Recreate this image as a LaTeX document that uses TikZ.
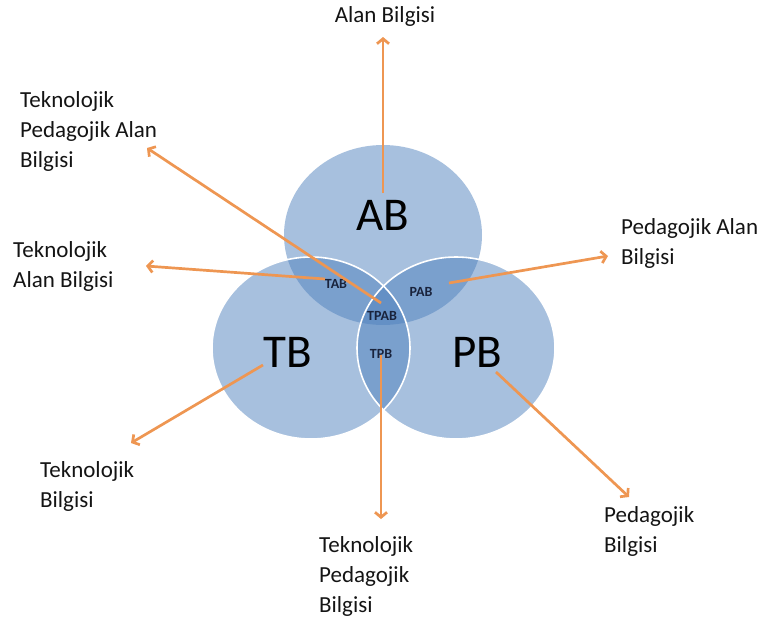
\documentclass[tikz,border=0pt]{standalone}
\usepackage{fontspec}
\setmainfont{Carlito}
\usepackage{tikz}
\usetikzlibrary{arrows.meta}

\definecolor{kume}{RGB}{79,129,189}
\definecolor{okrenk}{RGB}{238,150,82}
\definecolor{yazi}{RGB}{20,20,20}
\definecolor{kesyazi}{RGB}{25,35,60}

\tikzset{
	kumefill/.style={fill=kume, fill opacity=0.5},
	kenar/.style={draw=white, line width=1.6pt},
	bilgi/.style={anchor=north west, align=left, inner sep=0pt, text=yazi,
		font=\fontsize{23}{30}\selectfont},
	harf/.style={text=black, font=\fontsize{47}{47}\selectfont},
	kesit/.style={text=kesyazi, font=\bfseries\fontsize{14}{14}\selectfont},
	ok/.style={draw=okrenk, line width=2.7pt, -{Straight Barb[length=5pt,width=12pt]}}
}

\begin{document}
\begin{tikzpicture}[x=1pt, y=-1pt]
	\useasboundingbox (0,0) rectangle (766,624);

	% the three sets
	\fill[kumefill] (383,235) ellipse [x radius=99, y radius=90];
	\fill[kumefill] (311,348) ellipse [x radius=99, y radius=91];
	\fill[kumefill] (456,348) ellipse [x radius=99, y radius=91];
	\draw[kenar] (311,348) ellipse [x radius=99, y radius=91];
	\draw[kenar] (456,348) ellipse [x radius=99, y radius=91];

	\node[harf] (ab) at (383,215) {AB};
	\node[harf] (tb) at (288,352) {TB};
	\node[harf] (pb) at (477,352) {PB};
	\node[kesit] (tab) at (336,284) {TAB};
	\node[kesit] (pab) at (421,292) {PAB};
	\node[kesit] (tpab) at (382,316) {TPAB};
	\node[kesit] (tpb) at (381,354) {TPB};

	% outer texts
	\node[bilgi, anchor=north] (alan) at (385,6) {Alan Bilgisi};
	\node[bilgi] (tpabtxt) at (20,91) {Teknolojik\\Pedagojik Alan\\Bilgisi};
	\node[bilgi] (tabtxt) at (13,241) {Teknolojik\\Alan Bilgisi};
	\node[bilgi] (pabtxt) at (621,218) {Pedagojik Alan\\Bilgisi};
	\node[bilgi] (tbtxt) at (40,461) {Teknolojik\\Bilgisi};
	\node[bilgi] (tpbtxt) at (319,536) {Teknolojik\\Pedagojik\\Bilgisi};
	\node[bilgi] (pbtxt) at (604,506) {Pedagojik\\Bilgisi};

	% arrow ends
	\coordinate (ab-s) at (383,193);
	\coordinate (ab-e) at (383,37);
	\coordinate (tpab-s) at (381,303);
	\coordinate (tpab-e) at (147,148);
	\coordinate (tab-s) at (325,279);
	\coordinate (tab-e) at (146,266);
	\coordinate (pab-s) at (449,283);
	\coordinate (pab-e) at (608,256);
	\coordinate (tb-s) at (263,365);
	\coordinate (tb-e) at (131,443);
	\coordinate (tpb-s) at (381,355);
	\coordinate (tpb-e) at (381,519);
	\coordinate (pb-s) at (496,372);
	\coordinate (pb-e) at (629,497);

	\draw[ok] (ab-s) -- (ab-e);
	\draw[ok] (tpab-s) -- (tpab-e);
	\draw[ok] (tab-s) -- (tab-e);
	\draw[ok] (pab-s) -- (pab-e);
	\draw[ok] (tb-s) -- (tb-e);
	\draw[ok] (tpb-s) -- (tpb-e);
	\draw[ok] (pb-s) -- (pb-e);
\end{tikzpicture}
\end{document}
